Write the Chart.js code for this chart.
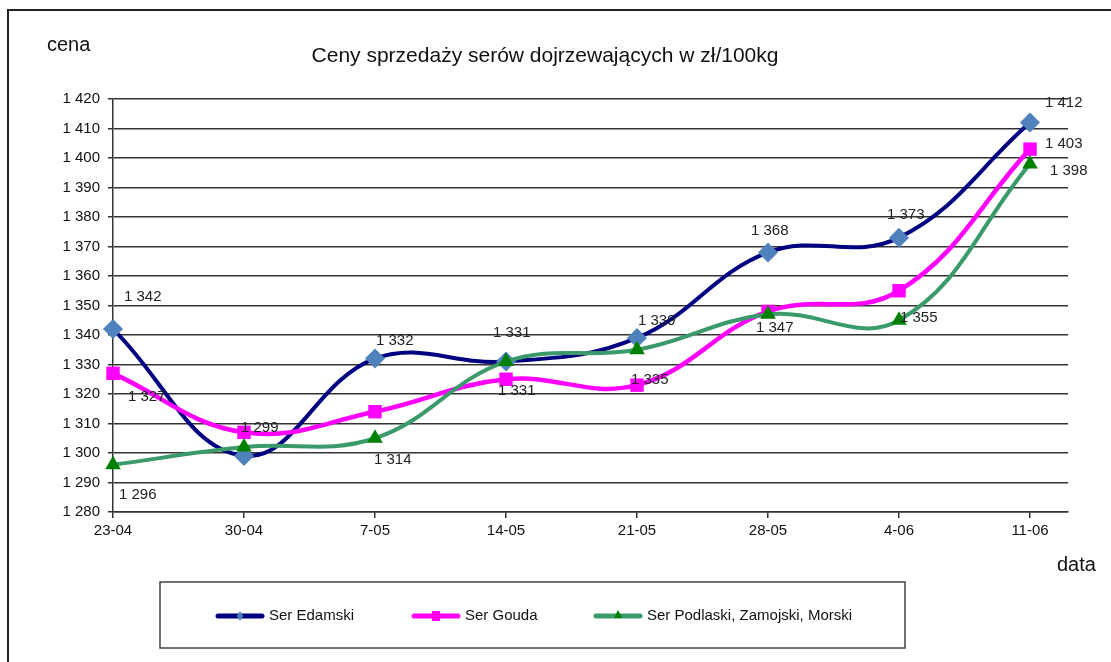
<!DOCTYPE html>
<html>
<head>
<meta charset="utf-8">
<script src="https://cdn.jsdelivr.net/npm/chart.js@4"></script>
<style>
  body { margin: 0; background: #fff; }
  #box { width: 1111px; height: 662px; }
</style>
</head>
<body>
<div id="box"><canvas id="cenyChart"></canvas></div>
<script>
// Daty notowań
const dates = ["23-04", "30-04", "7-05", "14-05", "21-05", "28-05", "4-06", "11-06"];

// Ceny (zł/100kg)
const serEdamski = [1342, 1299, 1332, 1331, 1339, 1368, 1373, 1412];
const serGouda = [1327, 1307, 1314, 1325, 1323, 1348, 1355, 1403];
const serPodlaski = [1296, 1302, 1305, 1331, 1335, 1347, 1345, 1398];

// Oś Y
const yMin = 1280;
const yMax = 1420;
const yStep = 10;

// Etykiety danych: [seria, punkt, dx, dy]
const labelPlacement = [
  [0, 0, 11, -32], [0, 1, -3, -28], [0, 2, 1, -18], [0, 3, -13, -29],
  [0, 4, 1, -17], [0, 5, -17, -22], [0, 6, -12, -23], [0, 7, 15, -20],
  [1, 0, 15, 24], [1, 2, -1, 48], [1, 6, 1, 27], [1, 7, 15, -5],
  [2, 0, 6, 30], [2, 3, -8, 29], [2, 4, -6, 30], [2, 5, -12, 14], [2, 7, 20, 7],
];

const FONT = "'Liberation Sans', Arial, sans-serif";

const fmt = (v) => Math.floor(v / 1000) + " " + String(v % 1000).padStart(3, "0");
const toPoints = (arr) => arr.map((v, i) => ({ x: i, y: v }));

// Rysuje tytuły, etykiety danych, legendę i ramkę
const extrasPlugin = {
  id: "extras",
  afterDatasetsDraw(chart) {
    const ctx = chart.ctx;
    ctx.save();
    ctx.font = "15px " + FONT;
    ctx.fillStyle = "#222";
    ctx.textAlign = "left";
    ctx.textBaseline = "middle";
    labelPlacement.forEach(([ds, i, dx, dy]) => {
      const pt = chart.getDatasetMeta(ds).data[i];
      const v = chart.data.datasets[ds].data[i].y;
      ctx.fillText(fmt(v), pt.x + dx, pt.y + dy);
    });
    ctx.restore();
  },
  afterDraw(chart) {
    const ctx = chart.ctx;
    ctx.save();
    // ramka
    ctx.strokeStyle = "#222";
    ctx.lineWidth = 2;
    ctx.beginPath();
    ctx.moveTo(1120, 10);
    ctx.lineTo(8, 10);
    ctx.lineTo(8, 670);
    ctx.stroke();

    ctx.fillStyle = "#111";
    ctx.textBaseline = "middle";
    ctx.font = "21px " + FONT;
    ctx.textAlign = "center";
    ctx.fillText("Ceny sprzedaży serów dojrzewających w zł/100kg", 545, 56);
    ctx.textAlign = "left";
    ctx.font = "20px " + FONT;
    ctx.fillText("cena", 47, 45);
    ctx.fillText("data", 1057, 565);

    // legenda
    ctx.strokeStyle = "#444";
    ctx.lineWidth = 1.5;
    ctx.strokeRect(160, 582, 745, 66);
    const itemX = [216, 412, 594];
    ctx.font = "15px " + FONT;
    chart.data.datasets.forEach((ds, k) => {
      const x0 = itemX[k], y0 = 616;
      ctx.strokeStyle = ds.borderColor;
      ctx.lineWidth = 5;
      ctx.lineCap = "round";
      ctx.beginPath();
      ctx.moveTo(x0 + 2, y0);
      ctx.lineTo(x0 + 46, y0);
      ctx.stroke();
      ctx.fillStyle = ds.pointBackgroundColor;
      ctx.beginPath();
      if (k === 0) {
        ctx.moveTo(x0 + 24, y0 - 5); ctx.lineTo(x0 + 27, y0);
        ctx.lineTo(x0 + 24, y0 + 5); ctx.lineTo(x0 + 21, y0);
      } else if (k === 1) {
        ctx.rect(x0 + 20, y0 - 5, 8, 10);
      } else {
        ctx.moveTo(x0 + 24, y0 - 6); ctx.lineTo(x0 + 28, y0 + 2); ctx.lineTo(x0 + 20, y0 + 2);
      }
      ctx.fill();
      ctx.fillStyle = "#111";
      ctx.fillText(ds.label, x0 + 53, y0);
    });
    ctx.restore();
  },
};

const chartData = {
  datasets: [
    {
      label: "Ser Edamski",
      data: toPoints(serEdamski),
      borderColor: "#000080",
      borderWidth: 4,
      pointStyle: "rectRot",
      pointRadius: 10,
      pointBackgroundColor: "#4f81bd",
      pointBorderColor: "#4f81bd",
      pointBorderWidth: 0,
      clip: false,
      order: 3,
    },
    {
      label: "Ser Gouda",
      data: toPoints(serGouda),
      borderColor: "#ff00ff",
      borderWidth: 4.5,
      pointStyle: "rect",
      pointRadius: 9.5,
      pointBackgroundColor: "#ff00ff",
      pointBorderColor: "#ff00ff",
      pointBorderWidth: 0,
      clip: false,
      order: 2,
    },
    {
      label: "Ser Podlaski, Zamojski, Morski",
      data: toPoints(serPodlaski),
      borderColor: "#3a9a6a",
      borderWidth: 4,
      pointStyle: "triangle",
      pointRadius: 9,
      pointBackgroundColor: "#008000",
      pointBorderColor: "#008000",
      pointBorderWidth: 0,
      clip: false,
      order: 1,
    },
  ],
};

const chartConfig = {
  type: "line",
  data: chartData,
  options: {
    responsive: true,
    maintainAspectRatio: false,
    animation: false,
    layout: { padding: { top: 99, right: 43, left: 0, bottom: 0 } },
    elements: { line: { tension: 0.4, fill: false } },
    plugins: {
      legend: { display: false },
      tooltip: { enabled: false },
    },
    scales: {
      x: {
        type: "linear",
        min: 0,
        max: 7.29,
        afterFit: (s) => { s.height = 150; },
        border: { color: "#333", width: 1.5 },
        grid: { drawOnChartArea: false, drawTicks: true, tickLength: 6, color: "#333", lineWidth: 1.5 },
        ticks: {
          stepSize: 1,
          includeBounds: false,
          autoSkip: false,
          maxRotation: 0,
          padding: 4,
          color: "#111",
          font: { family: FONT, size: 15 },
          callback: (v) => (Number.isInteger(v) && dates[v] !== undefined ? dates[v] : ""),
        },
      },
      y: {
        min: yMin,
        max: yMax,
        afterFit: (s) => { s.width = 113; },
        border: { color: "#333", width: 1.5 },
        grid: { color: "#333", lineWidth: 1.5, tickLength: 5 },
        ticks: {
          stepSize: yStep,
          padding: 8,
          color: "#111",
          font: { family: FONT, size: 15 },
          callback: (v) => fmt(v),
        },
      },
    },
  },
  plugins: [extrasPlugin],
};

const cenyChartElement = document.getElementById("cenyChart");
if (cenyChartElement) {
  new Chart(cenyChartElement, chartConfig);
}
</script>
</body>
</html>
